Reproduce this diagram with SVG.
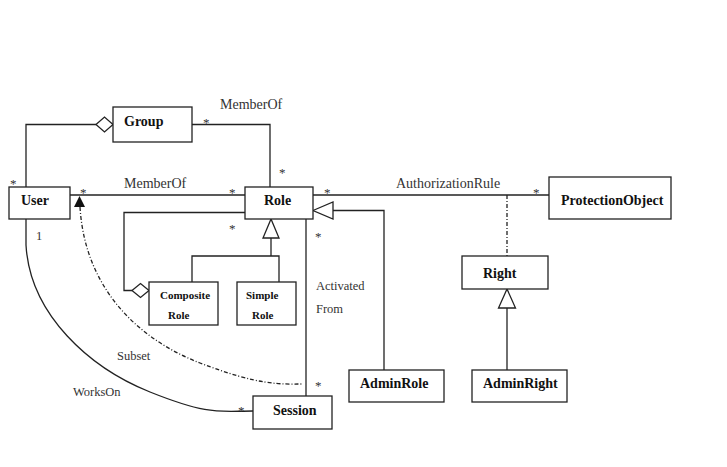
<svg xmlns="http://www.w3.org/2000/svg" width="727" height="467" viewBox="0 0 727 467">
<style>
.box{fill:#fff;stroke:#222;stroke-width:1.3}
.ln{fill:none;stroke:#222;stroke-width:1.3}
.dash{fill:none;stroke:#222;stroke-width:1.3;stroke-dasharray:4,2,1,2}
.nm{font-family:"Liberation Serif",serif;font-weight:bold;font-size:14px;fill:#111}
.sm{font-family:"Liberation Serif",serif;font-weight:bold;font-size:11px;fill:#111}
.lb{font-family:"Liberation Serif",serif;font-size:14px;fill:#333}
.lb2{font-family:"Liberation Serif",serif;font-size:12.5px;fill:#333}
.st{font-family:"Liberation Serif",serif;font-size:13px;fill:#333}
.hol{fill:#fff;stroke:#222;stroke-width:1.3}
</style>
<rect width="727" height="467" fill="#fff"/>
<g id="connectors">
<!-- User - Group aggregation -->
<polyline class="ln" points="26,187 26,124.5 96,124.5"/>
<polygon class="hol" points="96,124.5 104.5,117 113,124.5 104.5,132"/>
<!-- Group - Role -->
<polyline class="ln" points="192,124.5 270,124.5 270,187"/>
<!-- User - Role -->
<line class="ln" x1="70" y1="195" x2="245" y2="195"/>
<!-- Role - ProtectionObject -->
<line class="ln" x1="313" y1="195" x2="549" y2="195"/>
<!-- AuthorizationRule to Right dashed -->
<line class="dash" x1="507" y1="195" x2="507" y2="256"/>
<!-- AdminRole generalization -->
<polyline class="ln" points="384,370 384,210.5 333,210.5"/>
<polygon class="hol" points="313,210.5 333,202 333,219"/>
<!-- Role - Session -->
<line class="ln" x1="306" y1="219" x2="306" y2="396"/>
<!-- Composite aggregation -->
<polyline class="ln" points="245,212.5 124,212.5 124,290.5 132,290.5"/>
<polygon class="hol" points="132,290.5 140.5,283.5 149,290.5 140.5,297.5"/>
<!-- Generalization Composite/Simple -> Role -->
<polygon class="hol" points="271,219 263,238 279,238"/>
<polyline class="ln" points="271,238 271,256"/>
<polyline class="ln" points="192,282 192,256 279,256 279,282"/>
<!-- AdminRight -> Right -->
<polygon class="hol" points="507,289 498.5,308 515.5,308"/>
<line class="ln" x1="507" y1="308" x2="507" y2="370"/>
<!-- WorksOn -->
<path class="ln" d="M26,219 L26,245 C30,315 90,368 150,392 S220,411 253,411"/>
<!-- Subset dashed -->
<path class="dash" d="M80,207 C85,290 140,340 200,363 S280,384 303,384"/>
<polygon points="79.5,196 74,207 85,207" fill="#111"/>
</g>
<g id="labels">
<text class="lb" x="220" y="109">MemberOf</text>
<text class="lb" x="124" y="188">MemberOf</text>
<text class="lb" x="396" y="188">AuthorizationRule</text>
<text class="lb2" x="316" y="290">Activated</text>
<text class="lb2" x="316" y="313">From</text>
<text class="lb2" x="117" y="360">Subset</text>
<text class="lb2" x="73" y="396">WorksOn</text>
<text class="lb2" x="36" y="240">1</text>
<text class="st" x="203" y="127">*</text>
<text class="st" x="279" y="177">*</text>
<text class="st" x="10" y="188">*</text>
<text class="st" x="80" y="197">*</text>
<text class="st" x="229" y="197">*</text>
<text class="st" x="324" y="197">*</text>
<text class="st" x="229" y="233">*</text>
<text class="st" x="315" y="241">*</text>
<text class="st" x="533" y="197">*</text>
<text class="st" x="315" y="390">*</text>
<text class="st" x="238" y="415">*</text>
</g>
<g id="Group"><rect class="box" x="113" y="107" width="79" height="35"/><text class="nm" x="124" y="126">Group</text></g>
<g id="User"><rect class="box" x="9" y="187" width="61" height="32"/><text class="nm" x="21" y="205">User</text></g>
<g id="Role"><rect class="box" x="245" y="187" width="68" height="32"/><text class="nm" x="264" y="205">Role</text></g>
<g id="ProtectionObject"><rect class="box" x="549" y="177" width="122" height="42"/><text class="nm" x="561" y="205">ProtectionObject</text></g>
<g id="Right"><rect class="box" x="462" y="256" width="86" height="33"/><text class="nm" x="483" y="278">Right</text></g>
<g id="CompositeRole"><rect class="box" x="149" y="282" width="69" height="43"/><text class="sm" x="160" y="299">Composite</text><text class="sm" x="168" y="319">Role</text></g>
<g id="SimpleRole"><rect class="box" x="237" y="282" width="59" height="43"/><text class="sm" x="246" y="299">Simple</text><text class="sm" x="252" y="319">Role</text></g>
<g id="AdminRole"><rect class="box" x="349" y="370" width="95" height="32"/><text class="nm" x="360" y="388">AdminRole</text></g>
<g id="AdminRight"><rect class="box" x="472" y="370" width="95" height="32"/><text class="nm" x="483" y="388">AdminRight</text></g>
<g id="Session"><rect class="box" x="253" y="396" width="79" height="33"/><text class="nm" x="273" y="415">Session</text></g>
</svg>
